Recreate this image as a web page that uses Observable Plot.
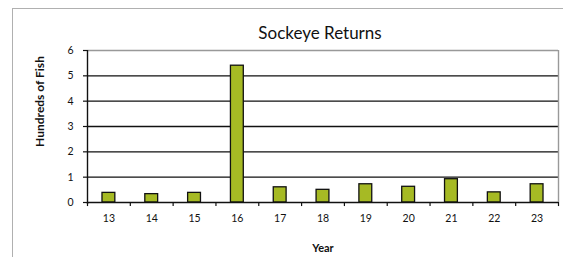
<!DOCTYPE html>
<html>
<head>
<meta charset="utf-8">
<script src="https://cdn.jsdelivr.net/npm/d3@7"></script>
<script src="https://cdn.jsdelivr.net/npm/@observablehq/plot@0.6"></script>
<style>
  html, body { margin: 0; padding: 0; background: #fff; }
  #wrap { position: relative; width: 563px; height: 257px; overflow: hidden; }
  #border { position: absolute; left: 12px; top: 8px; width: 600px; height: 300px; border: 1.5px solid #b0b0b0; box-sizing: border-box; }
  #chart { position: absolute; left: 0; top: 0; }
  #chart svg { background: transparent; }
</style>
</head>
<body>
<div id="wrap"><div id="border"></div><div id="chart"></div></div>
<script>
const title = "Sockeye Returns";
const yLabel = "Hundreds of Fish";
const xLabel = "Year";
const years = [13, 14, 15, 16, 17, 18, 19, 20, 21, 22, 23];
const returns = [0.38, 0.33, 0.38, 5.4, 0.6, 0.5, 0.72, 0.62, 0.92, 0.4, 0.72];
const yTicks = [0, 1, 2, 3, 4, 5, 6];

const data = years.map((y, i) => ({year: y, value: returns[i]}));
const W = 563, H = 257, mL = 87, mR = 5, mT = 50, mB = 55;
const font = "Lato, 'Open Sans', sans-serif";
const first = years[0], last = years[years.length - 1];
const half = 0.15; // half bar width in category units
const bounds = years.map(y => y - 0.5).concat([last + 0.5]);

const chart = Plot.plot({
  width: W, height: H,
  marginLeft: mL, marginRight: mR, marginTop: mT, marginBottom: mB,
  style: {fontFamily: font, background: "transparent", overflow: "visible"},
  x: {type: "linear", domain: [first - 0.5, last + 0.5]},
  y: {domain: [0, 6]},
  marks: [
    Plot.ruleY(yTicks.filter(d => d > 0 && d < 6), {stroke: "#111", strokeWidth: 1.4}),
    Plot.ruleY([6], {stroke: "#999", strokeWidth: 1.4}),
    Plot.ruleX([last + 0.5], {y1: 0, y2: 6, stroke: "#999", strokeWidth: 1.4}),
    Plot.rectY(data, {x1: d => d.year - half, x2: d => d.year + half, y: "value", fill: "#a6ba24", stroke: "#111", strokeWidth: 1.3}),
    Plot.ruleY([0], {stroke: "#111", strokeWidth: 1.4}),
    Plot.ruleX(bounds, {y1: 0, y2: -0.16, stroke: "#111", strokeWidth: 1.2}),
    Plot.ruleX([first - 0.5], {y1: -0.08, y2: 6, stroke: "#111", strokeWidth: 1.4}),
    Plot.axisY({ticks: yTicks, tickSize: 4, tickPadding: 10, tickFormat: d => d, label: null,
      fontSize: 10.5, fill: "#111", stroke: "#111", strokeWidth: 1.2}),
    Plot.axisX({ticks: years, tickSize: 0, tickPadding: 12, tickFormat: d => d, label: null, fontSize: 10.5, fill: "#111"}),
    Plot.text([title], {frameAnchor: "top", dy: -17, dx: -3, fontSize: 17, fill: "#111", lineAnchor: "middle"}),
    Plot.text([yLabel], {frameAnchor: "left", textAnchor: "middle", dx: -47, dy: -25, rotate: -90, fontSize: 12, fontWeight: "bold", fill: "#111", lineAnchor: "middle"}),
    Plot.text([xLabel], {frameAnchor: "bottom", dy: 46, fontSize: 11, fontWeight: "bold", fill: "#111", lineAnchor: "middle"})
  ]
});
document.getElementById("chart").appendChild(chart);
</script>
</body>
</html>
